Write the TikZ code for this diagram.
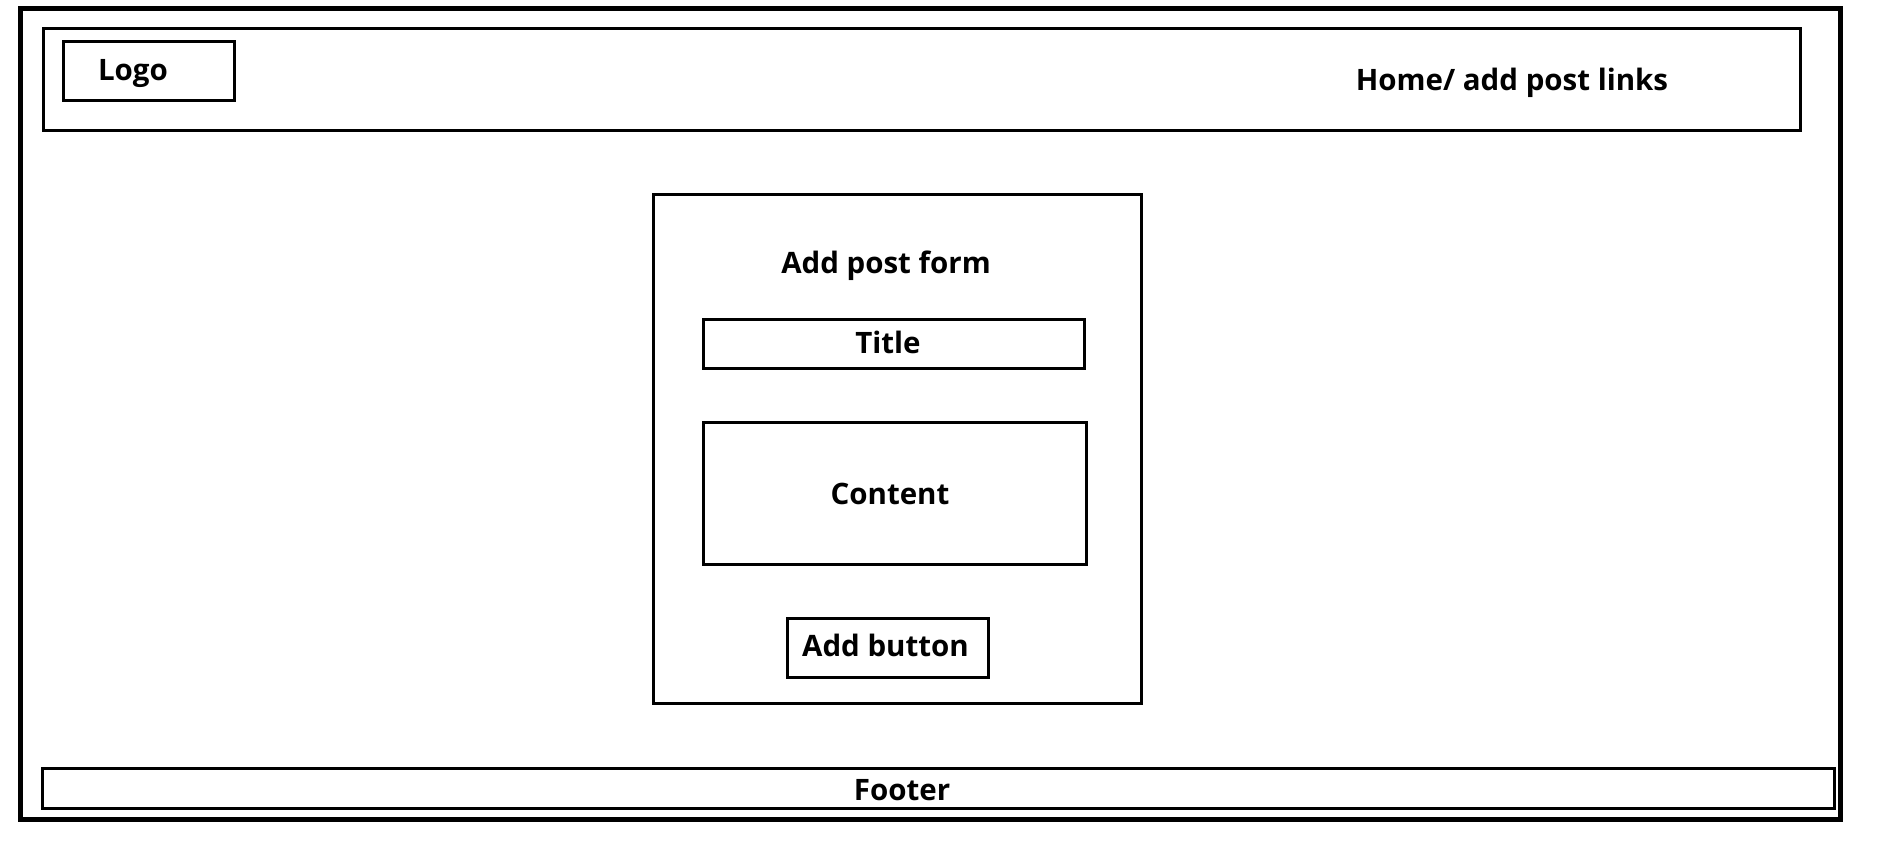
\documentclass[tikz,border=0pt]{standalone}
\usepackage{fontspec}
\setmainfont{Open Sans}[BoldFont={* Bold}]
\begin{document}
\begin{tikzpicture}[x=1pt,y=-1pt,
  box/.style={draw=black,line width=3pt,inner sep=0pt,outer sep=0pt},
  lbl/.style={font=\fontsize{29.5}{34}\selectfont\bfseries,inner sep=0pt,anchor=center}]
\useasboundingbox[fill=white] (0,0) rectangle (1879,858);
% outer frame
\node[box,line width=5pt,minimum width=1820pt,minimum height=811pt] (frame) at (930.5,414) {};
% header
\node[box,minimum width=1757pt,minimum height=102pt] (header) at (921.5,79.5) {};
\node[box,minimum width=171pt,minimum height=59pt] (logo) at (148.75,71.5) {};
\node[lbl] (logot) at (133,73.5) {Logo};
\node[lbl] (links) at (1512,82.5) {Home/ add post links};
% form
\node[box,minimum width=488pt,minimum height=508pt] (form) at (897.5,449) {};
\node[lbl] (formt) at (886,265.5) {Add post form};
\node[box,minimum width=381pt,minimum height=49pt] (title) at (893.5,344) {};
\node[lbl] (titlet) at (888,342.5) {Title};
\node[box,minimum width=383pt,minimum height=142pt] (content) at (894.5,493) {};
\node[lbl] (contentt) at (890,494) {Content};
\node[box,minimum width=201pt,minimum height=59pt] (button) at (887.5,647.5) {};
\node[lbl] (buttont) at (885.5,645) {Add button};
% footer
\node[box,minimum width=1792pt,minimum height=40pt] (footer) at (938.5,788.5) {};
\node[lbl] (footert) at (902,790.5) {Footer};
\end{tikzpicture}
\end{document}
